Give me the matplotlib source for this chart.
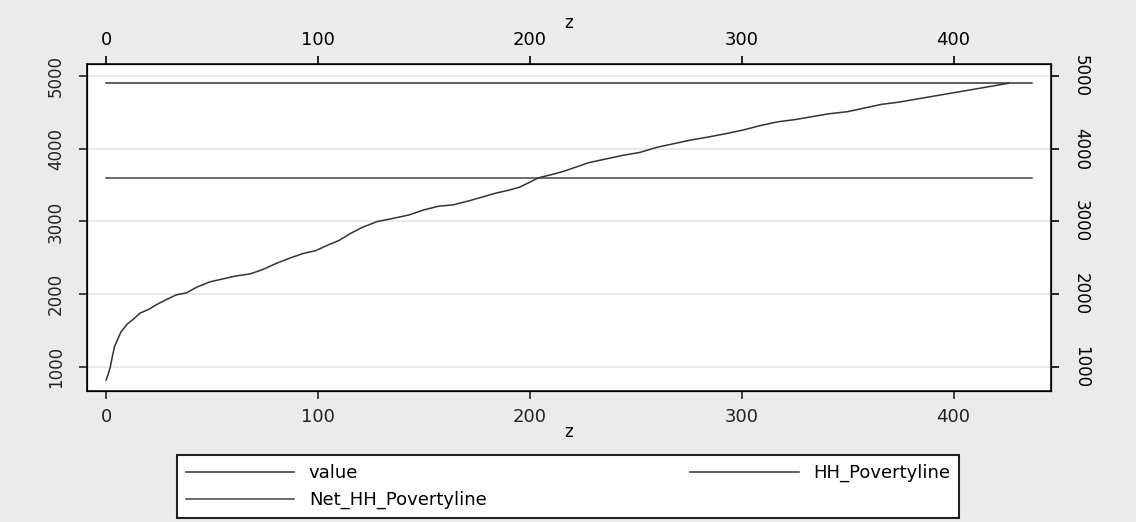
import matplotlib.pyplot as plt

# sorted household values (z, value)
z_value = [0, 1, 2, 3, 4, 5, 7, 10, 13, 16, 20, 24, 28, 33, 38, 43, 49, 55, 61, 68, 74,
           80, 87, 93, 99, 105, 110, 115, 121, 128, 135, 143, 150, 157, 164, 172, 178,
           184, 190, 195, 200, 204, 211, 216, 222, 228, 236, 244, 252, 260, 268, 276,
           284, 293, 301, 309, 317, 325, 333, 341, 350, 358, 366, 374, 382, 390, 398,
           406, 414, 420, 426]
value = [820, 900, 1000, 1150, 1280, 1350, 1480, 1590, 1660, 1740, 1790, 1860, 1920, 1990,
         2020, 2100, 2170, 2210, 2250, 2280, 2340, 2420, 2500, 2560, 2600, 2680, 2740,
         2830, 2920, 3000, 3040, 3090, 3160, 3210, 3230, 3290, 3340, 3390, 3430, 3470,
         3540, 3600, 3650, 3690, 3750, 3810, 3860, 3910, 3950, 4020, 4070, 4120, 4160,
         4210, 4260, 4320, 4370, 4400, 4440, 4480, 4510, 4560, 4610, 4640, 4680, 4720,
         4760, 4800, 4840, 4870, 4900]

z_line = [0, 437]
hh_povertyline = [4900, 4900]
net_hh_povertyline = [3600, 3600]

xticks = [0, 100, 200, 300, 400]
yticks = [1000, 2000, 3000, 4000, 5000]

bg = '#ebebeb'
fig = plt.figure(figsize=(11.36, 5.22), dpi=100, facecolor=bg)
ax = fig.add_axes([87 / 1136, 1 - 391 / 522, 964 / 1136, 327 / 522])
ax.set_facecolor('white')

ax.plot(z_line, hh_povertyline, color='#333333', lw=1.1, label='HH_Povertyline')
ax.plot(z_line, net_hh_povertyline, color='#444444', lw=1.1, label='Net_HH_Povertyline')
ax.plot(z_value, value, color='#333333', lw=1.1, label='value')

xlim = (-9, 446)
ylim = (670, 5165)
ax.set_xlim(*xlim)
ax.set_ylim(*ylim)
ax.set_xticks(xticks)
ax.set_yticks(yticks)
ax.grid(True, axis='y', color='#e6e6e6', lw=1.2)
ax.set_axisbelow(True)
for s in ax.spines.values():
    s.set_linewidth(1.3)
    s.set_color('#222222')

ax.tick_params(axis='both', direction='out', length=6, width=1.2, colors='#222222')
ax.tick_params(axis='x', labelsize=13, pad=6)
ax.tick_params(axis='y', labelsize=12, pad=10)
for lab in ax.get_yticklabels():
    lab.set_rotation(90)
    lab.set_va('center')
ax.set_xlabel('z', fontsize=12, labelpad=-2)

# top axis
axt = ax.twiny()
axt.set_xlim(*xlim)
axt.set_xticks(xticks)
axt.tick_params(axis='x', direction='out', length=6, width=1.2, labelsize=13, pad=5)
axt.set_xlabel('z', fontsize=12, labelpad=2)

# right axis
axr = ax.twinx()
axr.set_ylim(*ylim)
axr.set_yticks(yticks)
axr.tick_params(axis='y', direction='out', length=6, width=1.2, labelsize=12, pad=9)
for lab in axr.get_yticklabels():
    lab.set_rotation(270)
    lab.set_va('center')

h, l = ax.get_legend_handles_labels()
order = [2, 1, 0]
leg = fig.legend([h[i] for i in order], [l[i] for i in order], ncol=2,
                 loc='upper left', mode='expand',
                 bbox_to_anchor=(177 / 1136, 1 - 455 / 522, 782 / 1136, 0),
                 frameon=True, fancybox=False, framealpha=1, facecolor='white',
                 edgecolor='#222222', fontsize=13,
                 handlelength=6, handletextpad=0.8, borderaxespad=0,
                 borderpad=0.5, labelspacing=0.5)
leg.get_frame().set_linewidth(1.5)

fig.savefig('out.png', dpi=100, facecolor=bg)
